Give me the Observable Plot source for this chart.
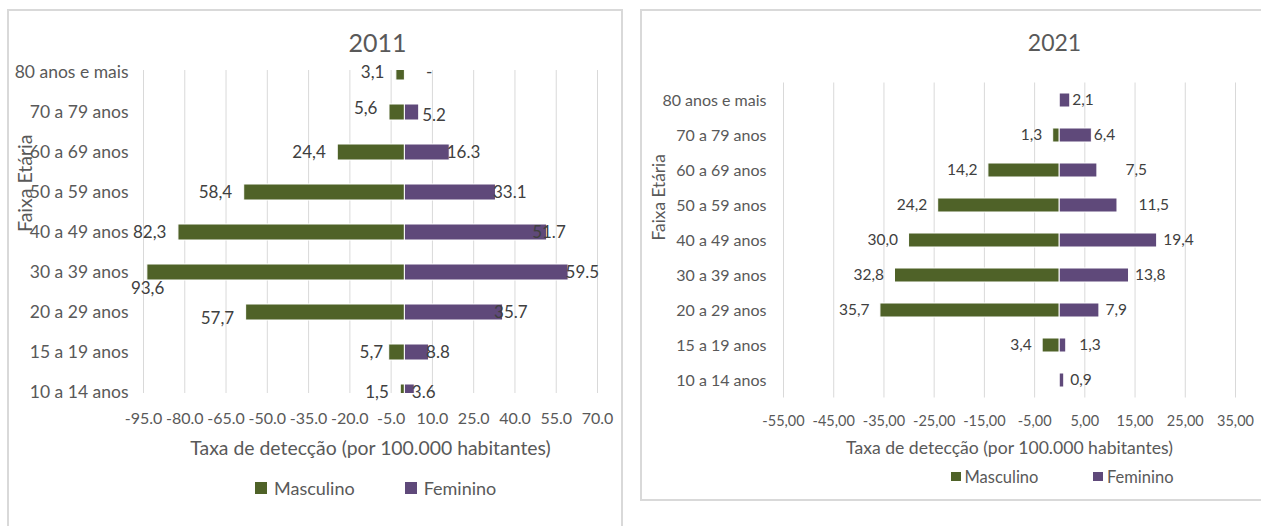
<!DOCTYPE html>
<html>
<head>
<meta charset="utf-8">
<script src="https://cdn.jsdelivr.net/npm/d3@7"></script>
<script src="https://cdn.jsdelivr.net/npm/@observablehq/plot@0.6"></script>
<style>
  html, body { margin: 0; padding: 0; background: #fff; }
  #page { position: relative; width: 1261px; height: 526px; overflow: hidden; background: #fff;
          font-family: Lato, "Open Sans", sans-serif; color: #595959; }
  .frame { position: absolute; border: 2px solid #d9d9d9; box-sizing: border-box; }
  .chart { position: absolute; top: 0; }
  .legend { position: absolute; display: flex; align-items: center; transform: translateY(-50%); white-space: nowrap; }
  .legend .item { display: flex; align-items: center; }
  .legend .swatch { display: inline-block; }
</style>
</head>
<body>
<div id="page"></div>
<script>
// Taxa de detecção por faixa etária e sexo — 2011 e 2021
const ageGroups = ["80 anos e mais", "70 a 79 anos", "60 a 69 anos", "50 a 59 anos", "40 a 49 anos",
                   "30 a 39 anos", "20 a 29 anos", "15 a 19 anos", "10 a 14 anos"];
const sexes = ["Masculino", "Feminino"];

const masculino2011 = [3.1, 5.6, 24.4, 58.4, 82.3, 93.6, 57.7, 5.7, 1.5];
const feminino2011  = [0, 5.2, 16.3, 33.1, 51.7, 59.5, 35.7, 8.8, 3.6];
const masculino2021 = [0, 1.3, 14.2, 24.2, 30.0, 32.8, 35.7, 3.4, 0];
const feminino2021  = [2.1, 6.4, 7.5, 11.5, 19.4, 13.8, 7.9, 1.3, 0.9];

const ticks2011 = [-95, -80, -65, -50, -35, -20, -5, 10, 25, 40, 55, 70];
const ticks2021 = [-55, -45, -35, -25, -15, -5, 5, 15, 25, 35];

const xTitle = "Taxa de detecção (por 100.000 habitantes)";
const yTitle = "Faixa Etária";

const sexColors = { Masculino: "#4F6228", Feminino: "#5F497A" };

const comma = (v, digits) => v.toFixed(digits).replace(".", ",");

// per-label nudges [dx, dy] in pixels, on top of the default label offset
const nudges2011 = {
  Masculino: { "70 a 79 anos": [0, -4], "30 a 39 anos": [29, 16], "20 a 29 anos": [0, 6], "15 a 19 anos": [6, 0] },
  Feminino:  { "80 anos e mais": [24, 0], "70 a 79 anos": [6, 3], "40 a 49 anos": [-12, 0], "20 a 29 anos": [-6, 0] }
};
const nudges2021 = {
  Masculino: {},
  Feminino: { "60 a 69 anos": [22, 0], "50 a 59 anos": [15, 0], "15 a 19 anos": [7, 0],
              "80 anos e mais": [-4, 0], "70 a 79 anos": [-4, 0] }
};

const panels = [
  {
    title: "2011", male: masculino2011, female: feminino2011, ticks: ticks2011,
    tickFormat: v => v.toFixed(1),
    maleFormat: v => comma(v, 1),
    femaleFormat: v => (v === 0 ? "-" : v.toFixed(1)),
    zeroFemaleLabel: true,
    nudges: nudges2011,
    left: 0, width: 623, height: 526,
    marginLeft: 143, marginRight: 26, marginTop: 70, marginBottom: 133,
    yRange: [52, 412], barInset: 12,
    fs: { cat: 17.5, tick: 16, value: 17, title: 25, xTitle: 19.4, yTitle: 19.5 },
    catPad: 15, tickPad: 19.4, maleDx: -12, femaleDx: -3,
    titleDx: 7, titleDy: -36, xTitleDy: 61, yTitleDx: -118,
    frame: { left: 7, top: 9, width: 616, height: 560 },
    legend: { left: 255, top: 488, swatch: 12, gap: 7, itemGap: 50, fontSize: 18 }
  },
  {
    title: "2021", male: masculino2021, female: feminino2021, ticks: ticks2021,
    tickFormat: v => comma(v, 2),
    maleFormat: v => comma(v, 1),
    femaleFormat: v => comma(v, 1),
    zeroFemaleLabel: false,
    nudges: nudges2021,
    left: 640, width: 621, height: 526,
    marginLeft: 143, marginRight: 26, marginTop: 82.5, marginBottom: 128.5,
    yRange: [82.5, 397.5], barInset: 10.5,
    fs: { cat: 16, tick: 14.5, value: 15.5, title: 23, xTitle: 17.6, yTitle: 17.3 },
    catPad: 17, tickPad: 17.4, maleDx: -11, femaleDx: 6,
    titleDx: 45, titleDy: -48, xTitleDy: 56, yTitleDx: -124,
    frame: { left: 640, top: 9, width: 700, height: 492 },
    legend: { left: 951, top: 476.5, swatch: 9.5, gap: 4, itemGap: 55, fontSize: 16.5 }
  }
];

const page = document.getElementById("page");

function valueLabels(rows, p, sex) {
  const isMale = sex === "Masculino";
  const fmt = isMale ? p.maleFormat : p.femaleFormat;
  const value = d => (isMale ? d.male : d.female);
  const shown = rows.filter(d => value(d) > 0 || (!isMale && p.zeroFemaleLabel));
  return shown.map(d => {
    const [ndx, ndy] = p.nudges[sex][d.age] || [0, 0];
    return Plot.text([d], {
      y: "age",
      x: d => (isMale ? -value(d) : value(d)),
      text: d => fmt(value(d)),
      textAnchor: isMale ? "end" : "start",
      dx: (isMale ? p.maleDx : p.femaleDx) + ndx,
      dy: ndy,
      fontSize: p.fs.value,
      fill: "#404040"
    });
  });
}

function drawPanel(p) {
  const rows = ageGroups.map((age, i) => ({ age, male: p.male[i], female: p.female[i] }));

  const frame = document.createElement("div");
  frame.className = "frame";
  Object.assign(frame.style, {
    left: p.frame.left + "px", top: p.frame.top + "px",
    width: p.frame.width + "px", height: p.frame.height + "px"
  });
  page.appendChild(frame);

  const chart = Plot.plot({
    width: p.width,
    height: p.height,
    marginLeft: p.marginLeft,
    marginRight: p.marginRight,
    marginTop: p.marginTop,
    marginBottom: p.marginBottom,
    style: { fontFamily: "Lato, 'Open Sans', sans-serif", color: "#595959", background: "transparent", overflow: "visible" },
    x: { domain: [p.ticks[0], p.ticks[p.ticks.length - 1]], nice: false },
    y: { type: "band", domain: ageGroups, range: p.yRange, padding: 0, round: false },
    marks: [
      Plot.gridX(p.ticks, { stroke: "#d9d9d9", strokeOpacity: 1, strokeWidth: 1 }),
      Plot.barX(rows.filter(d => d.male > 0), {
        y: "age", x1: 0, x2: d => -d.male,
        fill: sexColors.Masculino, stroke: "#ffffff", strokeWidth: 1,
        insetTop: p.barInset, insetBottom: p.barInset, clip: true
      }),
      Plot.barX(rows.filter(d => d.female > 0), {
        y: "age", x1: 0, x2: d => d.female,
        fill: sexColors.Feminino, stroke: "#ffffff", strokeWidth: 1,
        insetTop: p.barInset, insetBottom: p.barInset, clip: true
      }),
      Plot.axisY({ tickSize: 0, tickPadding: p.catPad, fontSize: p.fs.cat, label: null }),
      Plot.axisX(p.ticks, { tickSize: 0, tickPadding: p.tickPad, fontSize: p.fs.tick, tickFormat: p.tickFormat, label: null }),
      ...valueLabels(rows, p, "Masculino"),
      ...valueLabels(rows, p, "Feminino"),
      Plot.text([p.title], { text: d => d, frameAnchor: "top", dx: p.titleDx, dy: p.titleDy, fontSize: p.fs.title, fill: "#595959" }),
      Plot.text([xTitle], { text: d => d, frameAnchor: "bottom", dy: p.xTitleDy, fontSize: p.fs.xTitle, fill: "#595959" }),
      Plot.text([yTitle], { text: d => d, frameAnchor: "left", rotate: -90, dx: p.yTitleDx, fontSize: p.fs.yTitle, fill: "#595959" })
    ]
  });
  chart.classList.add("chart");
  chart.style.left = p.left + "px";
  page.appendChild(chart);

  // legend below the chart
  const lg = p.legend;
  const legend = document.createElement("div");
  legend.className = "legend";
  Object.assign(legend.style, { left: lg.left + "px", top: lg.top + "px", fontSize: lg.fontSize + "px", columnGap: lg.itemGap + "px" });
  sexes.forEach(sex => {
    const item = document.createElement("span");
    item.className = "item";
    item.style.columnGap = lg.gap + "px";
    const sw = document.createElement("span");
    sw.className = "swatch";
    Object.assign(sw.style, { width: lg.swatch + "px", height: lg.swatch + "px", background: sexColors[sex] });
    const label = document.createElement("span");
    label.textContent = sex;
    item.append(sw, label);
    legend.appendChild(item);
  });
  page.appendChild(legend);
}

panels.forEach(drawPanel);
</script>
</body>
</html>
